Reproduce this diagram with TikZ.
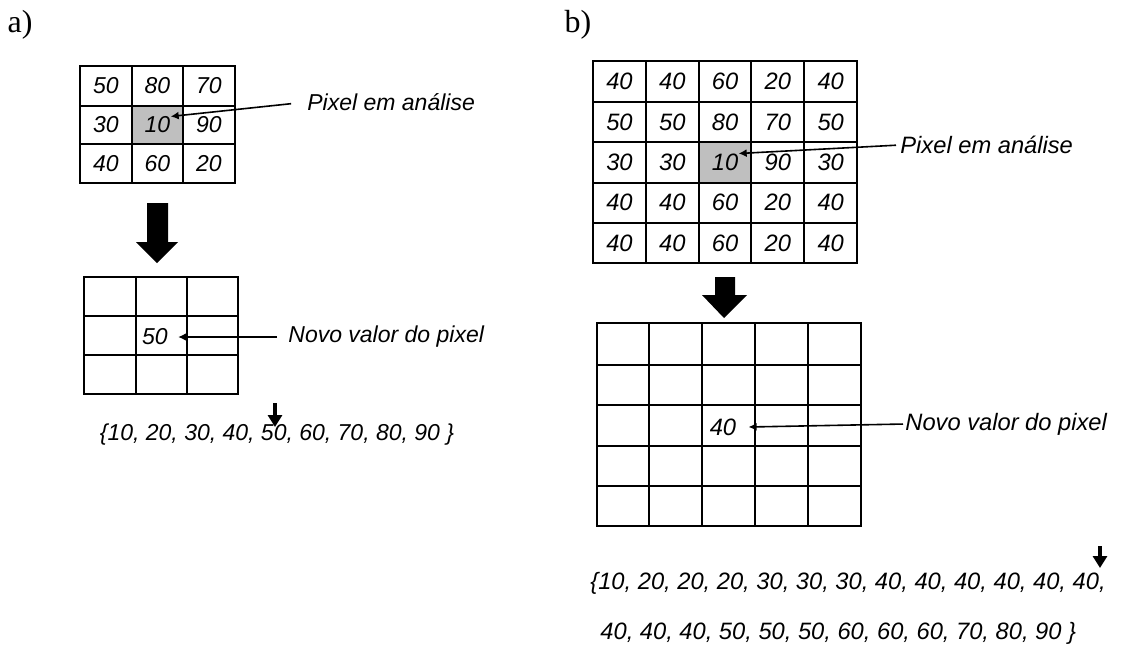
\documentclass[tikz,border=0pt]{standalone}
\usepackage{fontspec}
\setmainfont{Liberation Serif}
\setsansfont{Liberation Sans}
\usepackage{tikz}
\usetikzlibrary{arrows.meta}
\usetikzlibrary{calc}

\tikzset{
  val/.style={font=\sffamily\itshape\fontsize{11.5}{13}\selectfont, inner sep=0},
  valb/.style={font=\sffamily\itshape\fontsize{11.85}{13}\selectfont, inner sep=0},
  tag/.style={font=\fontsize{16}{18}\selectfont, inner sep=0},
  gridline/.style={line width=1pt},
  pointer/.style={line width=0.8pt, -{Latex[length=4pt,width=4pt]}},
  marker/.style={line width=1.8pt, -{Triangle[length=6pt,width=7pt]}},
}

\begin{document}
\begin{tikzpicture}[x=0.5pt, y=-0.5pt]
  \useasboundingbox (0,0) rectangle (1121,660);

  % ---- a) 3x3 neighbourhood ----
  \node[tag] (la) at (20,25) {a)};
  \fill[gray!50] (132,106) rectangle (183,144);
  \draw[gridline] (80,66) rectangle (235,183);
  \foreach \x in {132,183} \draw[gridline] (\x,66) -- (\x,183);
  \foreach \y in {106,144} \draw[gridline] (80,\y) -- (235,\y);
  \foreach \row [count=\j from 0] in {{50,80,70},{30,10,90},{40,60,20}}
    \foreach \v [count=\i from 0] in \row
      \node[val] (a-\j-\i) at (106+51.5*\i, 86+39*\j) {\v};
  \node[val, anchor=west] (pa) at (307,102) {Pixel em análise};
  \draw[pointer, shorten <=8pt] (pa.west) -- (a-1-1.north east);

  \fill (147,203) -- (168,203) -- (168,242) -- (178,242) -- (157,263)
        -- (136,242) -- (147,242) -- cycle;

  \draw[gridline] (84,277) rectangle (238,394);
  \foreach \x in {136,187} \draw[gridline] (\x,277) -- (\x,394);
  \foreach \y in {316,355} \draw[gridline] (84,\y) -- (238,\y);
  \node[val] (na) at (155,337) {50};
  \node[val, anchor=west] (nva) at (288,337) {Novo valor do pixel};
  \draw[pointer, shorten <=5.5pt] (nva.west) -- ([xshift=5pt]na.east);

  \node[val] (seta) at (277,435) {\{10, 20, 30, 40, 50, 60, 70, 80, 90 \}};
  \coordinate (ka1) at (275,403);
  \coordinate (ka2) at (275,427);
  \draw[marker] (ka1) -- (ka2);

  % ---- b) 5x5 neighbourhood ----
  \node[tag] (lb) at (578,25) {b)};
  \fill[gray!50] (699,142) rectangle (751,183);
  \draw[gridline] (593,61) rectangle (857,263);
  \foreach \x in {646,699,751,804} \draw[gridline] (\x,61) -- (\x,263);
  \foreach \y in {102,142,183,223} \draw[gridline] (593,\y) -- (857,\y);
  \foreach \row [count=\j from 0] in {{40,40,60,20,40},{50,50,80,70,50},
      {30,30,10,90,30},{40,40,60,20,40},{40,40,60,20,40}}
    \foreach \v [count=\i from 0] in \row
      \node[valb] (b-\j-\i) at (619.5+52.8*\i, 81.5+40.4*\j) {\v};
  \node[valb, anchor=west] (pb) at (900,145) {Pixel em análise};
  \draw[pointer, shorten <=2pt] (pb.west) -- (b-2-2.north east);

  \fill (715,277) -- (735,277) -- (735,295) -- (747,295) -- (724,318)
        -- (702,295) -- (715,295) -- cycle;

  \draw[gridline] (597,323) rectangle (861,526);
  \foreach \x in {649,702,755,808} \draw[gridline] (\x,323) -- (\x,526);
  \foreach \y in {365,405,446,486} \draw[gridline] (597,\y) -- (861,\y);
  \node[valb] (nb) at (723,427) {40};
  \node[valb, anchor=west] (nvb) at (905,424) {Novo valor do pixel};
  \draw[pointer, shorten <=1pt] (nvb.west) -- ([xshift=6pt]nb.east);

  \node[valb, anchor=west] (setb1) at (590,583)
    {\{10, 20, 20, 20, 30, 30, 30, 40, 40, 40, 40, 40, 40,};
  \node[valb, anchor=west] (setb2) at (600,633)
    {40, 40, 40, 50, 50, 50, 60, 60, 60, 70, 80, 90 \}};
  \coordinate (kb1) at (1100,546);
  \coordinate (kb2) at (1100,568);
  \draw[marker] (kb1) -- (kb2);
\end{tikzpicture}
\end{document}
